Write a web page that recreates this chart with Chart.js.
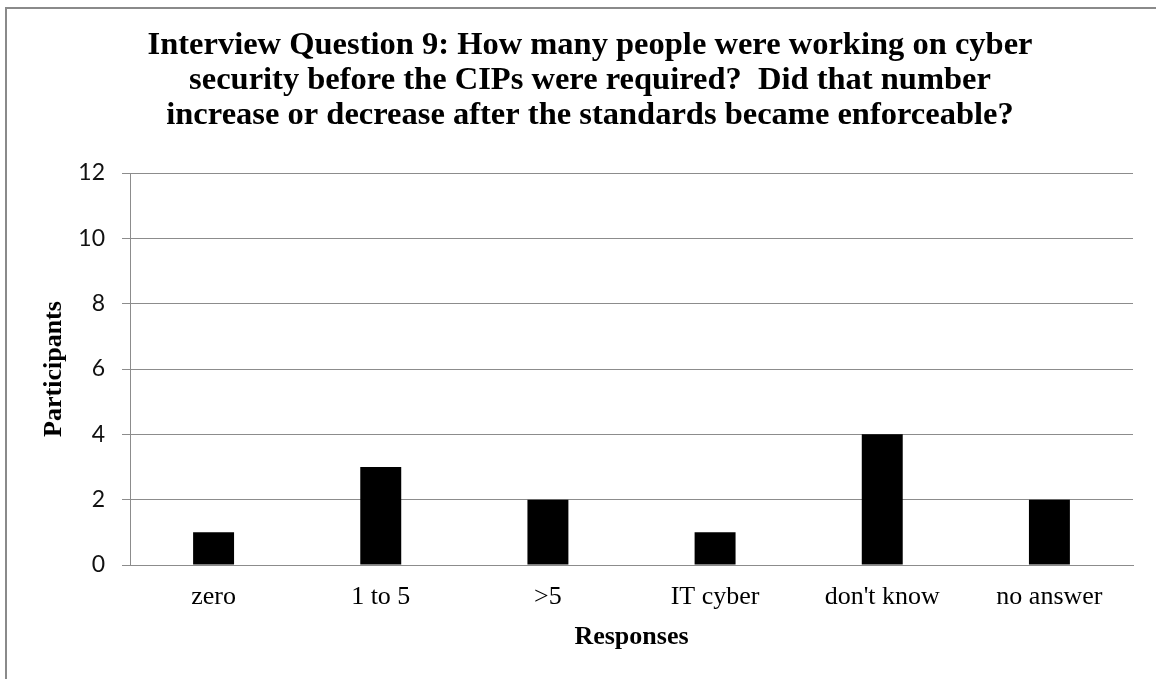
<!DOCTYPE html>
<html>
<head>
<meta charset="utf-8">
<script src="https://cdn.jsdelivr.net/npm/chart.js@4/dist/chart.umd.min.js"></script>
<style>
  html, body { margin: 0; padding: 0; background: #ffffff; }
  #wrap { width: 1156px; height: 679px; position: relative; }
</style>
</head>
<body>
<div id="wrap"><canvas id="chart" width="1156" height="679"></canvas></div>
<script>
// Responses to interview question 9
const categories = ["zero", "1 to 5", ">5", "IT cyber", "don't know", "no answer"];
const participants = [1, 3, 2, 1, 4, 2];
const yTicks = [0, 2, 4, 6, 8, 10, 12];
const titleLines = [
  "Interview Question 9: How many people were working on cyber",
  "security before the CIPs were required?  Did that number",
  "increase or decrease after the standards became enforceable?"
];

const serif = "'Liberation Serif', 'Times New Roman', serif";
const gridGray = "#8c8c8c";

// Panel background and frame line
const framePlugin = {
  id: "frame",
  beforeDraw(chart) {
    const ctx = chart.ctx;
    ctx.save();
    ctx.fillStyle = "#ffffff";
    ctx.fillRect(0, 0, chart.width, chart.height);
    ctx.strokeStyle = "#8a8a8a";
    ctx.lineWidth = 2;
    ctx.strokeRect(6, 8, chart.width + 20, chart.height + 20);
    ctx.restore();
  }
};

// Three-line heading, centred over the panel
const headingPlugin = {
  id: "heading",
  afterDraw(chart) {
    const ctx = chart.ctx;
    ctx.save();
    ctx.fillStyle = "#000000";
    ctx.font = "bold 32.5px " + serif;
    ctx.textAlign = "center";
    ctx.textBaseline = "middle";
    titleLines.forEach((line, i) => ctx.fillText(line, 590, 46 + i * 35));
    ctx.restore();
  }
};

new Chart(document.getElementById("chart"), {
  type: "bar",
  data: {
    labels: categories,
    datasets: [{
      data: participants,
      backgroundColor: "#000000",
      borderWidth: 0,
      barPercentage: 0.245,
      categoryPercentage: 1.0
    }]
  },
  options: {
    responsive: false,
    animation: false,
    layout: { padding: { left: 0, right: 23, top: 173, bottom: 0 } },
    plugins: {
      legend: { display: false },
      tooltip: { enabled: false },
      title: { display: false }
    },
    scales: {
      x: {
        grid: { display: false },
        border: { display: true, color: gridGray, width: 1 },
        ticks: {
          color: "#000000",
          font: { family: serif, size: 26 },
          padding: 9,
          maxRotation: 0
        },
        title: {
          display: true,
          text: "Responses",
          color: "#000000",
          font: { family: serif, size: 26, weight: "bold", lineHeight: 1.2 },
          padding: { top: 26, bottom: 26 }
        },
        afterFit(scale) { scale.height = 114; }
      },
      y: {
        min: 0,
        max: 12,
        afterBuildTicks(scale) { scale.ticks = yTicks.map(v => ({ value: v })); },
        grid: { color: gridGray, lineWidth: 1, tickLength: 8, drawTicks: true },
        border: { display: true, color: gridGray, width: 1 },
        ticks: {
          color: "#111111",
          font: { family: "Lato, 'Open Sans', sans-serif", size: 23 },
          padding: 17
        },
        title: {
          display: true,
          text: "Participants",
          color: "#000000",
          font: { family: serif, size: 26, weight: "bold", lineHeight: 1.2 },
          padding: { top: 39, bottom: 39 }
        },
        afterFit(scale) { scale.width = 130; }
      }
    }
  },
  plugins: [framePlugin, headingPlugin]
});
</script>
</body>
</html>
